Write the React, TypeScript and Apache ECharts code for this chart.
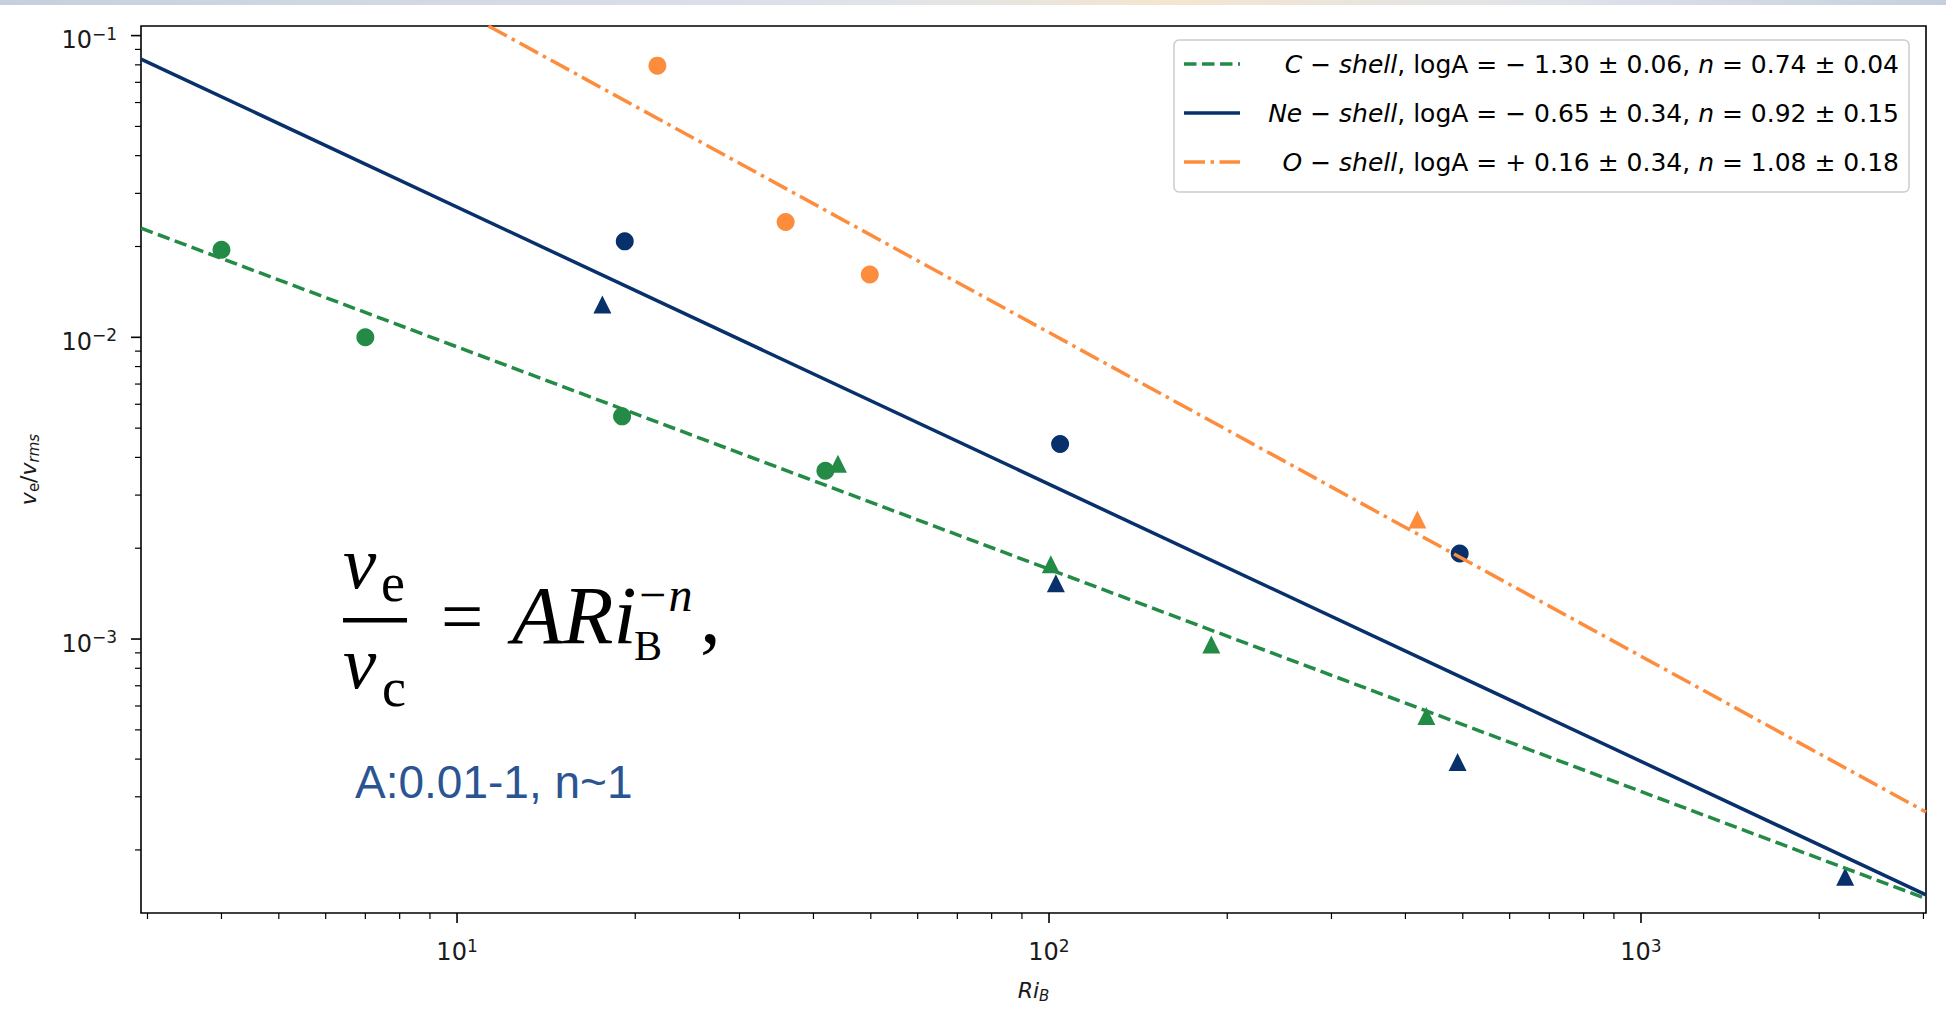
import React, { useEffect, useRef } from "react";
import * as echarts from "echarts";

// ---- axis extents ----
const X_MIN = 2.925;
const X_MAX = 3030;
const Y_MIN = 1.236e-4;
const Y_MAX = 0.1076;

// ---- tick values ----
const xMajorTicks = [10, 100, 1000];
const xMinorTicks = [3, 4, 5, 6, 7, 8, 9, 20, 30, 40, 50, 60, 70, 80, 90, 200, 300, 400, 500, 600, 700, 800, 900, 2000, 3000];
const yMajorTicks = [0.001, 0.01, 0.1];
const yMinorTicks = [
  0.0002, 0.0003, 0.0004, 0.0005, 0.0006, 0.0007, 0.0008, 0.0009,
  0.002, 0.003, 0.004, 0.005, 0.006, 0.007, 0.008, 0.009,
  0.02, 0.03, 0.04, 0.05, 0.06, 0.07, 0.08, 0.09,
];

// ---- data points [Ri_B, v_e/v_rms] ----
const cShellCircles = [[4.0, 0.0195], [7.0, 0.01], [19.0, 0.00547], [41.9, 0.00361]];
const cShellTriangles = [[44.0, 0.00381], [100.7, 0.00177], [188, 0.00096], [434, 0.000556]];
const neShellCircles = [[19.2, 0.0208], [104.4, 0.00443], [494, 0.00192]];
const neShellTriangles = [[17.6, 0.01285], [102.7, 0.00153], [490, 0.000391], [2213, 0.000163]];
const oShellCircles = [[21.8, 0.0795], [35.9, 0.0241], [49.8, 0.01615]];
const oShellTriangles = [[419, 0.00249]];

// ---- fitted lines (end points) ----
const cShellFit = [[2.925, 0.023], [3030, 0.000138]];
const neShellFit = [[2.925, 0.0836], [3030, 0.000142]];
const oShellFit = [[11.3, 0.1076], [3030, 0.000267]];

// ---- legend labels ----
const legendRows = [
  { name: "C", logA: "− 1.30 ± 0.06", n: "0.74 ± 0.04" },
  { name: "Ne", logA: "− 0.65 ± 0.34", n: "0.92 ± 0.15" },
  { name: "O", logA: "+ 0.16 ± 0.34", n: "1.08 ± 0.18" },
];

const GREEN = "#238b45";
const NAVY = "#08306b";
const ORANGE = "#fd8d3c";
const TXT = "#1a1a1a";
const SANS = "DejaVu Sans";
const SERIF = "Liberation Serif";

const LINE_W = 3.5;
const DASH_C = [12.5, 5.5];
const DASH_O = [21, 5.5, 3.5, 5.5];

function powLabel(v: number) {
  const e = Math.log10(v);
  const r = Math.round(e);
  if (Math.abs(e - r) > 1e-6) return "";
  const ex = r < 0 ? "−" + -r : String(r);
  return "{b|10}{s|" + ex + "}";
}

const labelRich = {
  b: { fontSize: 24, fontFamily: SANS, color: TXT, lineHeight: 30 },
  s: { fontSize: 17, fontFamily: SANS, color: TXT, lineHeight: 17, verticalAlign: "top" },
};

function tickSeries(values: number[], axis: "x" | "y", len: number, lw: number) {
  return {
    type: "custom",
    coordinateSystem: "cartesian2d",
    silent: true,
    clip: false,
    z: 6,
    data: values.map((v) => (axis === "x" ? [v, Y_MIN] : [X_MIN, v])),
    renderItem: (params: any, api: any) => {
      const p = api.coord([api.value(0), api.value(1)]);
      const cs = params.coordSys;
      if (axis === "x") {
        const y = cs.y + cs.height;
        return { type: "line", shape: { x1: p[0], y1: y, x2: p[0], y2: y + len }, style: { stroke: "#000", lineWidth: lw } };
      }
      const x = cs.x;
      return { type: "line", shape: { x1: x - len, y1: p[1], x2: x, y2: p[1] }, style: { stroke: "#000", lineWidth: lw } };
    },
  };
}

function scatter(name: string, data: number[][], color: string, tri: boolean) {
  return {
    name,
    type: "scatter",
    data,
    symbol: tri ? "triangle" : "circle",
    symbolSize: tri ? [18, 18] : 18,
    itemStyle: { color, opacity: 1 },
    z: 2,
    silent: true,
  };
}

function fitLine(name: string, data: number[][], color: string, type: any) {
  return {
    name,
    type: "line",
    data,
    showSymbol: false,
    symbol: "none",
    clip: true,
    lineStyle: { color, width: LINE_W, type, cap: "butt" },
    z: 3,
    silent: true,
  };
}

function txt(text: string, x: number, y: number, size: number, italic: boolean, family = SERIF, fill = "#000") {
  return {
    type: "text",
    x,
    y,
    z: 20,
    style: {
      text,
      fontSize: size,
      fontFamily: family,
      fontStyle: italic ? "italic" : "normal",
      fill,
      align: "left",
      textAlign: "left",
      verticalAlign: "middle",
      textVerticalAlign: "middle",
    },
  };
}

const legendRich = {
  it: { fontSize: 25, fontFamily: SANS, fontStyle: "italic", color: TXT },
  n: { fontSize: 25, fontFamily: SANS, color: TXT },
};

function buildOption() {
  const rowsY = [64, 113, 162];
  const sampleStyles = [
    { stroke: GREEN, lineDash: DASH_C },
    { stroke: NAVY, lineDash: null },
    { stroke: ORANGE, lineDash: DASH_O },
  ];
  const legendEls: any[] = [
    {
      type: "rect",
      z: 15,
      shape: { x: 1174, y: 40, width: 735, height: 152, r: 5 },
      style: { fill: "rgba(255,255,255,0.85)", stroke: "#cccccc", lineWidth: 1.5 },
    },
  ];
  legendRows.forEach((r, i) => {
    legendEls.push({
      type: "line",
      z: 16,
      shape: { x1: 1184, y1: rowsY[i], x2: 1240, y2: rowsY[i] },
      style: { stroke: sampleStyles[i].stroke, lineWidth: LINE_W, lineDash: sampleStyles[i].lineDash, lineCap: "butt" },
    });
    legendEls.push({
      type: "text",
      z: 16,
      x: 1899,
      y: rowsY[i],
      style: {
        text: `{it|${r.name} − shell}{n|, logA = ${r.logA}, }{it|n}{n| = ${r.n}}`,
        rich: legendRich,
        align: "right",
        textAlign: "right",
        verticalAlign: "middle",
        textVerticalAlign: "middle",
      },
    });
  });

  const formulaEls: any[] = [
    txt("v", 343, 562, 75, true),
    txt("e", 381, 583, 54, false),
    { type: "rect", z: 20, shape: { x: 343, y: 618, width: 64, height: 4.5 }, style: { fill: "#000" } },
    txt("v", 343, 662, 75, true),
    txt("c", 382, 688, 54, false),
    txt("=", 441, 615, 75, false),
    txt("ARi", 512, 615, 83, true),
    txt("−n", 636, 594, 48, true),
    txt("B", 634, 646, 42, false),
    txt(",", 700, 615, 83, false),
    txt("A:0.01-1, n~1", 355, 782, 46, false, "Liberation Sans", "#2b5592"),
  ];

  const band = {
    type: "rect",
    z: 0,
    shape: { x: 0, y: 0, width: 1946, height: 5 },
    style: {
      fill: new echarts.graphic.LinearGradient(0, 0, 1, 0, [
        { offset: 0, color: "#c6d0dc" },
        { offset: 0.45, color: "#dfe3ea" },
        { offset: 0.6, color: "#f3e6cf" },
        { offset: 0.8, color: "#dfe3ea" },
        { offset: 1, color: "#c6d0dc" },
      ]),
    },
  };

  return {
    animation: false,
    backgroundColor: "#ffffff",
    grid: {
      left: 141,
      right: 20,
      top: 26,
      bottom: 111,
      containLabel: false,
      outerBoundsMode: "none",
      show: true,
      borderColor: "#000",
      borderWidth: 1.6,
      backgroundColor: "#fff",
      z: 1,
    },
    xAxis: {
      type: "log",
      logBase: 10,
      min: X_MIN,
      max: X_MAX,
      axisLine: { show: false },
      axisTick: { show: false },
      minorTick: { show: false },
      splitLine: { show: false },
      minorSplitLine: { show: false },
      axisLabel: {
        formatter: powLabel,
        rich: labelRich,
        margin: 15,
        padding: [9, 0, 0, 0],
        showMinLabel: false,
        showMaxLabel: false,
        hideOverlap: false,
      },
      name: "{r|Ri}{sb|B}",
      nameLocation: "middle",
      nameGap: 64,
      nameMoveOverlap: false,
      nameTextStyle: {
        rich: {
          r: { fontSize: 22, fontFamily: SANS, fontStyle: "italic", color: TXT, lineHeight: 26 },
          sb: { fontSize: 15, fontFamily: SANS, fontStyle: "italic", color: TXT, lineHeight: 14, verticalAlign: "bottom" },
        },
      },
    },
    yAxis: {
      type: "log",
      logBase: 10,
      min: Y_MIN,
      max: Y_MAX,
      axisLine: { show: false },
      axisTick: { show: false },
      minorTick: { show: false },
      splitLine: { show: false },
      minorSplitLine: { show: false },
      axisLabel: {
        formatter: powLabel,
        rich: labelRich,
        margin: 24,
        padding: [9, 0, 0, 0],
        showMinLabel: false,
        showMaxLabel: false,
        hideOverlap: false,
      },
      name: "{v|v}{se|e}{n|/}{v|v}{sr|rms}",
      nameLocation: "middle",
      nameGap: 100,
      nameMoveOverlap: false,
      nameTextStyle: {
        rich: {
          v: { fontSize: 22, fontFamily: SANS, fontStyle: "italic", color: TXT, lineHeight: 26 },
          n: { fontSize: 22, fontFamily: SANS, color: TXT, lineHeight: 26 },
          se: { fontSize: 15, fontFamily: SANS, color: TXT, lineHeight: 14, verticalAlign: "bottom" },
          sr: { fontSize: 15, fontFamily: SANS, fontStyle: "italic", color: TXT, lineHeight: 14, verticalAlign: "bottom" },
        },
      },
    },
    series: [
      scatter("C-shell (circles)", cShellCircles, GREEN, false),
      scatter("C-shell (triangles)", cShellTriangles, GREEN, true),
      scatter("Ne-shell (circles)", neShellCircles, NAVY, false),
      scatter("Ne-shell (triangles)", neShellTriangles, NAVY, true),
      scatter("O-shell (circles)", oShellCircles, ORANGE, false),
      scatter("O-shell (triangles)", oShellTriangles, ORANGE, true),
      fitLine("C-shell fit", cShellFit, GREEN, DASH_C),
      fitLine("Ne-shell fit", neShellFit, NAVY, "solid"),
      fitLine("O-shell fit", oShellFit, ORANGE, DASH_O),
      tickSeries(xMajorTicks, "x", 10, 1.6),
      tickSeries(xMinorTicks, "x", 6, 1.2),
      tickSeries(yMajorTicks, "y", 10, 1.6),
      tickSeries(yMinorTicks, "y", 6, 1.2),
    ],
    graphic: { elements: [band, ...legendEls, ...formulaEls] },
  };
}

export default function App() {
  const ref = useRef<HTMLDivElement>(null);
  useEffect(() => {
    if (!ref.current) return;
    const chart = echarts.init(ref.current, null, { renderer: "svg" });
    chart.setOption(buildOption() as any);
    return () => chart.dispose();
  }, []);
  return (
    <div
      ref={ref}
      style={{ position: "fixed", left: 0, top: 0, width: 1946, height: 1024, background: "#fff" }}
    />
  );
}
